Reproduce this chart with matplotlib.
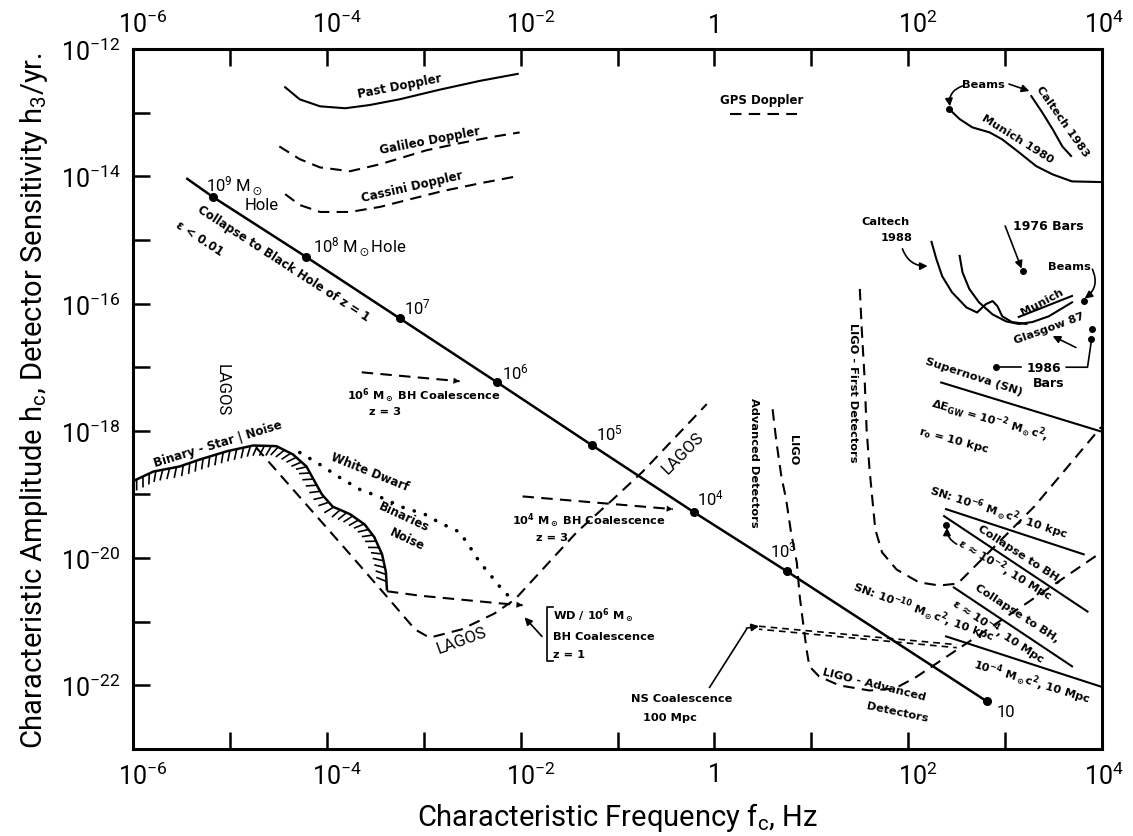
import numpy as np
import matplotlib
matplotlib.use("Agg")
import matplotlib.pyplot as plt
from matplotlib.ticker import FixedLocator, FuncFormatter, NullLocator
from matplotlib.collections import LineCollection
from matplotlib.transforms import offset_copy, ScaledTranslation

plt.rcParams['font.family'] = ['Roboto', 'DejaVu Sans']
plt.rcParams['mathtext.fontset'] = 'custom'
plt.rcParams['mathtext.rm'] = 'Roboto'
plt.rcParams['mathtext.it'] = 'Roboto:italic'
plt.rcParams['mathtext.bf'] = 'Roboto:bold'
plt.rcParams['mathtext.default'] = 'regular'

# ---------------- data: log10 frequency [Hz], log10 amplitude ----------------
bh_mass_labels = ['10$^9$', '10$^8$', '10$^7$', '10$^6$', '10$^5$', '10$^4$', '10$^3$', '10']
bh_logf = [-5.17, -4.21, -3.25, -2.24, -1.26, -0.21, 0.75, 2.81]
bh_logh = [-14.33, -15.27, -16.23, -17.24, -18.23, -19.28, -20.21, -22.25]
bh_start_logf = -5.44
bh_start_logh = -14.04

past_logf = [-4.43, -4.28, -4.07, -3.81, -3.56, -3.25, -2.84, -2.42, -2.03]
past_logh = [-12.60, -12.79, -12.90, -12.93, -12.88, -12.79, -12.64, -12.50, -12.39]

galileo_logf = [-4.49, -4.28, -4.07, -3.76, -3.45, -2.97, -2.63, -2.29, -2.01]
galileo_logh = [-13.53, -13.73, -13.86, -13.92, -13.81, -13.59, -13.48, -13.38, -13.31]

cassini_logf = [-4.43, -4.28, -4.07, -3.76, -3.45, -3.14, -2.80, -2.42, -2.04]
cassini_logh = [-14.28, -14.45, -14.56, -14.56, -14.48, -14.36, -14.23, -14.11, -14.00]

gps_logf = [0.16, 0.85]
gps_logh = [-13.02, -13.02]

munich80_logf = [2.42, 2.53, 2.66, 2.84, 2.97, 3.14, 3.32, 3.49, 3.69, 3.99]
munich80_logh = [-12.94, -13.10, -13.23, -13.31, -13.42, -13.62, -13.84, -13.97, -14.08, -14.09]

caltech83_logf = [3.27, 3.38, 3.49, 3.59, 3.68]
caltech83_logh = [-12.74, -12.99, -13.26, -13.53, -13.68]

caltech88a_logf = [2.24, 2.29, 2.35, 2.45, 2.60, 2.71, 2.80, 2.87, 2.92, 2.97, 3.07, 3.22]
caltech88a_logh = [-15.03, -15.30, -15.57, -15.82, -16.06, -16.14, -16.01, -15.96, -16.04, -16.20, -16.29, -16.32]

caltech88b_logf = [2.53, 2.56, 2.63, 2.73, 2.87, 3.01, 3.14, 3.28, 3.45, 3.69]
caltech88b_logh = [-15.25, -15.51, -15.77, -15.98, -16.17, -16.28, -16.32, -16.29, -16.20, -15.98]

munich_logf = [3.14, 3.69]
munich_logh = [-16.21, -15.88]

bar_dots_logf = [2.42, 3.18, 3.81, 3.90, 3.89, 2.91]
bar_dots_logh = [-12.94, -15.49, -15.96, -16.40, -16.56, -17.00]

supernova_logf = [2.34, 3.99]
supernova_logh = [-17.24, -18.01]
sn6_logf = [2.39, 3.81]
sn6_logh = [-19.23, -19.94]
bh2_logf = [2.37, 3.85]
bh2_logh = [-19.34, -20.84]
bh2_dot_logf = [2.39]
bh2_dot_logh = [-19.48]
bh4_logf = [2.47, 3.69]
bh4_logh = [-20.46, -21.70]
sn10_logf = [2.39, 3.99]
sn10_logh = [-21.23, -22.02]

ligo1_logf = [1.50, 1.52, 1.55, 1.57, 1.60, 1.63, 1.66, 1.73, 1.88, 2.11, 2.32, 2.51, 2.68, 3.30, 3.99]
ligo1_logh = [-15.77, -16.40, -17.19, -17.97, -18.60, -19.08, -19.55, -19.91, -20.18, -20.38, -20.43, -20.40, -20.14, -19.19, -17.94]

ligo_adv_logf = [0.60, 0.64, 0.69, 0.74, 0.79, 0.85, 0.88, 0.91, 0.95, 0.98, 1.08, 1.29, 1.60, 1.86, 2.08, 3.23, 3.99]
ligo_adv_logh = [-17.66, -18.18, -18.71, -19.08, -19.59, -20.07, -20.60, -20.96, -21.43, -21.70, -21.86, -22.00, -22.08, -22.05, -21.87, -20.70, -19.91]

ns_logf = [0.46, 2.50]
ns_logh = [-21.07, -21.36]

lagos_logf = [-4.73, -4.28, -3.76, -3.40, -3.09, -2.94, -2.61, -2.27, -2.06, -1.80, -1.42, -1.05, -0.74, -0.08]
lagos_logh = [-18.26, -19.04, -19.94, -20.57, -21.12, -21.25, -21.12, -20.87, -20.65, -20.22, -19.59, -19.08, -18.64, -17.58]

wd_logf = [-4.28, -4.07, -3.87, -3.66, -3.45, -3.22, -2.99, -2.84, -2.63, -2.53, -2.42, -2.32, -2.22, -2.11]
wd_logh = [-18.34, -18.53, -18.73, -18.92, -19.04, -19.20, -19.31, -19.44, -19.59, -19.81, -20.07, -20.25, -20.44, -20.62]

binary_logf = [-6.00, -5.79, -5.52, -5.31, -5.03, -4.76, -4.52, -4.35, -4.21, -4.12, -4.05, -3.94, -3.76, -3.61, -3.51, -3.43, -3.39, -3.38]
binary_logh = [-18.79, -18.64, -18.56, -18.45, -18.32, -18.23, -18.24, -18.37, -18.56, -18.81, -19.00, -19.19, -19.31, -19.47, -19.67, -19.94, -20.22, -20.49]

wdbh_logf = [-3.38, -3.04, -2.63, -2.22, -1.98]
wdbh_logh = [-20.52, -20.59, -20.65, -20.71, -20.74]

bh4z3_logf = [-1.98, -0.43]
bh4z3_logh = [-19.03, -19.23]
bh6z3_logf = [-3.64, -2.63]
bh6z3_logh = [-17.08, -17.22]

x_tick_exps = list(range(-6, 5))
y_tick_exps = list(range(-23, -11))

# ---------------- figure ----------------
def P(v):
    return 10.0 ** np.asarray(v, dtype=float)

fig = plt.figure(figsize=(11.33, 8.37), dpi=100)
ax = fig.add_axes([0.1174, 0.1039, 0.8553, 0.8363])
ax.set_xscale('log')
ax.set_yscale('log')
ax.set_xlim(1e-6, 1e4)
ax.set_ylim(1e-23, 1e-12)

def fmt(v, pos):
    e = int(round(np.log10(v)))
    if e % 2:
        return ''
    if e == 0:
        return '1'
    return r'$10^{%d}$' % e

ax.xaxis.set_major_locator(FixedLocator(P(x_tick_exps)))
ax.yaxis.set_major_locator(FixedLocator(P(y_tick_exps)))
ax.xaxis.set_minor_locator(NullLocator())
ax.yaxis.set_minor_locator(NullLocator())
ax.xaxis.set_major_formatter(FuncFormatter(fmt))
ax.yaxis.set_major_formatter(FuncFormatter(fmt))
ax.tick_params(axis='x', which='major', direction='in', length=12, width=1.8,
               top=True, bottom=True, labeltop=True, labelbottom=True,
               labelsize=18, pad=9)
ax.tick_params(axis='y', which='major', direction='in', length=12, width=1.8,
               left=True, right=False, labelsize=18, pad=9)
for s in ax.spines.values():
    s.set_linewidth(2.2)

# center the "10" of each x tick label on its tick (superscript hangs to the right)
for e, tick in zip(x_tick_exps, ax.xaxis.get_major_ticks()):
    if e != 0:
        dx = 7 if e < 4 else 1
        shift = ScaledTranslation(dx / 72.0, 0, fig.dpi_scale_trans)
        tick.label1.set_transform(tick.label1.get_transform() + shift)
        tick.label2.set_transform(tick.label2.get_transform() + shift)

ax.set_xlabel('Characteristic Frequency f$_c$, Hz', fontsize=21, labelpad=8)
ax.set_ylabel('Characteristic Amplitude h$_c$, Detector Sensitivity h$_3$/yr.',
              fontsize=21, labelpad=8)

K = 'black'
LW = 1.5
DASH = (0, (5.5, 3.5))
ANN = ['DejaVu Sans']

def T(lf, lh, s, rot=0, size=8.2, ha='center', va='center', weight='bold', family=None):
    if family is None:
        family = ANN if weight == 'bold' else ['Roboto', 'DejaVu Sans']
    ax.text(P(lf), P(lh), s, rotation=rot, fontsize=size, ha=ha, va=va,
            weight=weight, rotation_mode='anchor', color=K, family=family)

def arrow(lf0, lh0, lf1, lh1, rad=0.0, style='-|>', lw=1.2, ms=11):
    ax.annotate('', xy=(P(lf1), P(lh1)), xytext=(P(lf0), P(lh0)),
                arrowprops=dict(arrowstyle=style, color=K, lw=lw,
                                mutation_scale=ms, shrinkA=0, shrinkB=0,
                                connectionstyle='arc3,rad=%g' % rad))

# main collapse line
ax.plot(P([bh_start_logf] + bh_logf), P([bh_start_logh] + bh_logh), color=K, lw=1.8)
ax.plot(P(bh_logf), P(bh_logh), 'o', color=K, ms=5.5)

# doppler curves
ax.plot(P(past_logf), P(past_logh), color=K, lw=LW)
ax.plot(P(galileo_logf), P(galileo_logh), color=K, lw=LW, ls=DASH)
ax.plot(P(cassini_logf), P(cassini_logh), color=K, lw=LW, ls=DASH)
ax.plot(P(gps_logf), P(gps_logh), color=K, lw=LW, ls=DASH)

# bar / beam detectors
ax.plot(P(munich80_logf), P(munich80_logh), color=K, lw=LW)
ax.plot(P(caltech83_logf), P(caltech83_logh), color=K, lw=LW)
ax.plot(P(caltech88a_logf), P(caltech88a_logh), color=K, lw=LW)
ax.plot(P(caltech88b_logf), P(caltech88b_logh), color=K, lw=LW)
ax.plot(P(munich_logf), P(munich_logh), color=K, lw=LW)
ax.plot(P(bar_dots_logf), P(bar_dots_logh), 'o', color=K, ms=4)

# source lines on the right
ax.plot(P(supernova_logf), P(supernova_logh), color=K, lw=LW)
ax.plot(P(sn6_logf), P(sn6_logh), color=K, lw=LW)
ax.plot(P(bh2_logf), P(bh2_logh), color=K, lw=LW)
ax.plot(P(bh2_dot_logf), P(bh2_dot_logh), 'o', color=K, ms=4)
ax.plot(P(bh4_logf), P(bh4_logh), color=K, lw=LW)
ax.plot(P(sn10_logf), P(sn10_logh), color=K, lw=LW)

# LIGO
ax.plot(P(ligo1_logf), P(ligo1_logh), color=K, lw=LW, ls=DASH)
ax.plot(P(ligo_adv_logf), P(ligo_adv_logh), color=K, lw=LW, ls=DASH)

# NS coalescence track (double dashed)
ax.plot(P(ns_logf), P(ns_logh), color=K, lw=1.2, ls=(0, (4, 3)))
ax.plot(P(ns_logf), P(ns_logh), color=K, lw=1.2, ls=(2, (4, 3)),
        transform=offset_copy(ax.transData, fig=fig, x=0, y=-3, units='dots'))

# LAGOS, white dwarf, binary noise
ax.plot(P(lagos_logf), P(lagos_logh), color=K, lw=LW, ls=DASH)
ax.plot(P(wd_logf), P(wd_logh), color=K, lw=2.6, ls=(0, (0.05, 3.2)),
        dash_capstyle='round', solid_capstyle='round')
ax.plot(P(binary_logf), P(binary_logh), color=K, lw=1.8)

# hatching below the binary-star noise curve
pts = ax.transData.transform(np.column_stack([P(binary_logf), P(binary_logh)]))
seg = np.hypot(np.diff(pts[:, 0]), np.diff(pts[:, 1]))
s = np.concatenate([[0], np.cumsum(seg)])
si = np.arange(4, s[-1] - 2, 7.0)
hx = np.interp(si, s, pts[:, 0])
hy = np.interp(si, s, pts[:, 1])
tx = np.gradient(hx)
ty = np.gradient(hy)
nrm = np.hypot(tx, ty)
tx, ty = tx / nrm, ty / nrm
nx, ny = ty, -tx
a = np.deg2rad(25)
rx = nx * np.cos(a) + ny * np.sin(a)
ry = -nx * np.sin(a) + ny * np.cos(a)
L = 11
inv = ax.transData.inverted()
p0 = inv.transform(np.column_stack([hx, hy]))
p1 = inv.transform(np.column_stack([hx + rx * L, hy + ry * L]))
ax.add_collection(LineCollection([[tuple(a0), tuple(a1)] for a0, a1 in zip(p0, p1)],
                                 colors=K, linewidths=1.2))

# coalescence tracks with arrows
ax.plot(P(wdbh_logf), P(wdbh_logh), color=K, lw=LW, ls=DASH)
arrow(wdbh_logf[-2], wdbh_logh[-2], wdbh_logf[-1], wdbh_logh[-1], style='-|>', lw=0.01)
ax.plot(P(bh4z3_logf), P(bh4z3_logh), color=K, lw=LW, ls=DASH)
arrow(-0.6, -19.21, bh4z3_logf[-1], bh4z3_logh[-1], lw=0.01)
ax.plot(P(bh6z3_logf), P(bh6z3_logh), color=K, lw=LW, ls=DASH)
arrow(-2.8, -17.20, bh6z3_logf[-1], bh6z3_logh[-1], lw=0.01)

# ---------------- annotations ----------------
NUM = 12
T(-4.95, -14.15, '10$^9$ M$_\\odot$', size=NUM, weight='normal')
T(-4.67, -14.44, 'Hole', size=NUM, weight='normal')
T(-4.14, -15.10, '10$^8$ M$_\\odot$Hole', size=NUM, weight='normal', ha='left')
T(-3.20, -16.04, bh_mass_labels[2], size=NUM, weight='normal', ha='left')
T(-2.19, -17.06, bh_mass_labels[3], size=NUM, weight='normal', ha='left')
T(-1.22, -18.02, bh_mass_labels[4], size=NUM, weight='normal', ha='left')
T(-0.18, -19.04, bh_mass_labels[5], size=NUM, weight='normal', ha='left')
T(0.57, -19.86, bh_mass_labels[6], size=NUM, weight='normal', ha='left')
T(2.91, -22.41, bh_mass_labels[7], size=NUM, weight='normal', ha='left')
T(-4.45, -15.35, 'Collapse to Black Hole of z = 1', rot=-33, size=8.5)
T(-5.31, -14.96, '\u03b5 < 0.01', rot=-33, size=8.5)

T(-3.25, -12.57, 'Past Doppler', rot=11, size=8.5)
T(-2.94, -13.42, 'Galileo Doppler', rot=11, size=8.5)
T(-3.12, -14.15, 'Cassini Doppler', rot=13, size=8.5)
T(0.49, -12.79, 'GPS Doppler', size=8.5)

T(2.78, -12.55, 'Beams')
arrow(3.04, -12.55, 3.25, -12.66)
arrow(2.56, -12.58, 2.43, -12.90, rad=0.4)
T(3.59, -13.13, 'Caltech 1983', rot=-55)
T(3.13, -13.40, 'Munich 1980', rot=-32)

T(1.77, -14.70, 'Caltech')
T(1.88, -14.96, '1988')
arrow(1.94, -15.14, 2.20, -15.41, rad=0.35)
T(3.45, -14.78, '1976 Bars', size=9)
arrow(3.00, -14.78, 3.17, -15.45)
T(3.66, -15.41, 'Beams')
arrow(3.90, -15.46, 3.82, -15.92, rad=-0.4)
T(3.38, -15.96, 'Munich', rot=28)
T(3.45, -16.37, 'Glasgow 87', rot=20)
arrow(3.73, -16.69, 3.49, -16.51)
T(3.40, -17.00, '1986', size=9)
T(3.45, -17.24, 'Bars', size=9)
ax.plot(P([2.95, 3.16]), P([-17.00, -17.00]), color=K, lw=1.2)
ax.plot(P([3.63, 3.85, 3.89]), P([-17.00, -17.00, -16.58]), color=K, lw=1.2)

T(2.68, -17.13, 'Supernova (SN)', rot=-18)
T(2.84, -17.82, '\u0394E$_{GW}$ = 10$^{-2}$ M$_\\odot$c$^2$,', rot=-16)
T(2.47, -18.13, 'r$_o$ = 10 kpc', rot=-15)
T(2.93, -19.27, 'SN: 10$^{-6}$ M$_\\odot$c$^2$, 10 kpc', rot=-18)
T(3.15, -19.93, 'Collapse to BH,', rot=-33)
T(3.00, -20.17, '\u03b5 \u2248 10$^{-2}$, 10 Mpc', rot=-31)
arrow(2.50, -19.78, 2.40, -19.52, rad=-0.3)
T(3.12, -20.86, 'Collapse to BH,', rot=-33)
T(2.93, -21.14, '\u03b5 \u2248 10$^{-4}$, 10 Mpc', rot=-33)
T(3.28, -21.93, '10$^{-4}$ M$_\\odot$c$^2$, 10 Mpc', rot=-17)
T(2.16, -20.83, 'SN: 10$^{-10}$ M$_\\odot$c$^2$, 10 kpc', rot=-20)

T(1.43, -17.39, 'LIGO - First Detectors', rot=-90)
T(0.41, -18.48, 'Advanced Detectors', rot=-90)
T(0.81, -18.29, 'LIGO', rot=-90)
T(1.65, -21.98, 'LIGO - Advanced', rot=-14)
T(1.89, -22.41, 'Detectors', rot=-12)

T(-0.34, -22.20, 'NS Coalescence')
T(-0.46, -22.50, '100 Mpc')
ax.plot(P([-0.05, 0.33]), P([-22.03, -21.12]), color=K, lw=1.2)
arrow(0.33, -21.10, 0.46, -21.07)

T(-1.67, -20.88, 'WD / 10$^6$ M$_\\odot$', ha='left')
T(-1.67, -21.23, 'BH Coalescence', ha='left')
T(-1.50, -21.51, 'z = 1')
ax.plot(P([-1.67, -1.73, -1.73, -1.67]), P([-20.77, -20.77, -21.62, -21.62]), color=K, lw=1.2)
arrow(-1.78, -21.23, -1.96, -20.93)

T(-2.09, -19.39, '10$^4$ M$_\\odot$ BH Coalescence', ha='left')
T(-1.68, -19.67, 'z = 3')
T(-3.79, -17.42, '10$^6$ M$_\\odot$ BH Coalescence', ha='left')
T(-3.40, -17.69, 'z = 3')

T(-5.08, -17.35, 'LAGOS', rot=-90, size=12, weight='normal')
T(-2.61, -21.28, 'LAGOS', rot=20, size=12, weight='normal')
T(-0.33, -18.34, 'LAGOS', rot=45, size=12, weight='normal')
T(-5.12, -18.19, 'Binary - Star | Noise', rot=17, size=8.5)
T(-3.56, -18.64, 'White Dwarf', rot=-22, size=8.5)
T(-3.20, -19.34, 'Binaries', rot=-25, size=8.5)
T(-3.17, -19.70, 'Noise', rot=-25, size=8.5)

fig.savefig('out.png', dpi=100)
